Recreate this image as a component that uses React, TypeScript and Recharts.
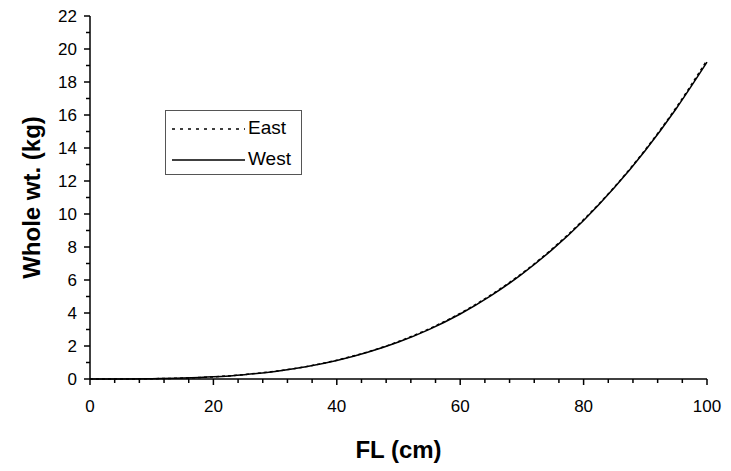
import { LineChart, Line, XAxis, YAxis, Legend, Label } from 'recharts'

// fork length (cm) and predicted whole weight (kg)
const lengths = [0, 5, 10, 15, 20, 25, 30, 35, 40, 45, 50, 55, 60, 65, 70, 75, 80, 85, 90, 95, 100]
const eastWt = [0, 0.002, 0.016, 0.056, 0.13, 0.27, 0.47, 0.75, 1.14, 1.64, 2.27, 3.05, 3.98, 5.1, 6.4, 7.92, 9.66, 11.64, 13.9, 16.45, 19.32]
const westWt = [0, 0.002, 0.015, 0.054, 0.13, 0.26, 0.46, 0.74, 1.12, 1.62, 2.24, 3.01, 3.94, 5.05, 6.36, 7.87, 9.61, 11.6, 13.85, 16.38, 19.2]

const xTicks = [0, 4, 8, 12, 16, 20, 24, 28, 32, 36, 40, 44, 48, 52, 56, 60, 64, 68, 72, 76, 80, 84, 88, 92, 96, 100]
const yTicks = [0, 1, 2, 3, 4, 5, 6, 7, 8, 9, 10, 11, 12, 13, 14, 15, 16, 17, 18, 19, 20, 21, 22]

const seriesNames = ['East', 'West']

const data = lengths.map((fl, i) => ({ fl, east: eastWt[i], west: westWt[i] }))

const FONT = '"Liberation Sans", Arial, sans-serif'

const YTick = ({ x, y, payload }: any) => {
    const major = payload.value % 2 === 0
    return (
        <g>
            <line x1={x} x2={x - (major ? 6 : 4)} y1={y} y2={y} stroke="#000" strokeWidth={1.5} />
            {major && (
                <text x={x - 13} y={y} dy="0.36em" textAnchor="end" fontSize={17} fontFamily={FONT} fill="#000">
                    {payload.value}
                </text>
            )}
        </g>
    )
}

const XTick = ({ x, y, payload }: any) => {
    const major = payload.value % 20 === 0
    return (
        <g>
            <line x1={x} x2={x} y1={y} y2={y + (major ? 6 : 4)} stroke="#000" strokeWidth={1.5} />
            {major && (
                <text x={x} y={y + 33} textAnchor="middle" fontSize={17} fontFamily={FONT} fill="#000">
                    {payload.value}
                </text>
            )}
        </g>
    )
}

const LegendBox = () => (
    <div
        style={{
            width: 137,
            height: 65,
            border: '1px solid #555',
            background: '#fff',
            boxSizing: 'border-box',
            position: 'relative',
        }}
    >
        <svg width={135} height={63} style={{ position: 'absolute', left: 0, top: 0 }}>
            <line x1={6} x2={79} y1={18} y2={18} stroke="#000" strokeWidth={1.5} strokeDasharray="3 5" />
            <line x1={6} x2={79} y1={49} y2={49} stroke="#000" strokeWidth={1.5} />
            <text x={82} y={23} fontSize={19} fontFamily={FONT}>{seriesNames[0]}</text>
            <text x={82} y={54} fontSize={19} fontFamily={FONT}>{seriesNames[1]}</text>
        </svg>
    </div>
)

export default function App() {
    return (
        <div style={{ position: 'absolute', left: 0, top: 0, width: 731, height: 471, background: '#fff', fontFamily: FONT }}>
            <LineChart width={731} height={471} data={data} margin={{ top: 16, right: 24, left: 0, bottom: 0 }}>
                <XAxis
                    dataKey="fl"
                    type="number"
                    domain={[0, 100]}
                    ticks={xTicks}
                    interval={0}
                    height={92}
                    tickSize={0}
                    tickMargin={0}
                    tickLine={false}
                    tick={<XTick />}
                    axisLine={{ stroke: '#000', strokeWidth: 1.5 }}
                >
                    <Label
                        value="FL (cm)"
                        position="insideBottom"
                        offset={13}
                        style={{ fontFamily: FONT, fontSize: 24, fontWeight: 'bold', fill: '#000' }}
                    />
                </XAxis>
                <YAxis
                    type="number"
                    domain={[0, 22]}
                    ticks={yTicks}
                    interval={0}
                    width={90}
                    tickSize={0}
                    tickMargin={0}
                    tickLine={false}
                    tick={<YTick />}
                    axisLine={{ stroke: '#000', strokeWidth: 1.5 }}
                >
                    <Label
                        value="Whole wt. (kg)"
                        angle={-90}
                        position="insideLeft"
                        offset={31}
                        style={{ textAnchor: 'middle', fontFamily: FONT, fontSize: 24, fontWeight: 'bold', fill: '#000' }}
                    />
                </YAxis>
                <Legend
                    layout="horizontal"
                    verticalAlign="middle"
                    align="center"
                    content={<LegendBox />}
                    wrapperStyle={{ position: 'absolute', left: 165, top: 110, width: 137, height: 65 }}
                />
                <Line
                    name={seriesNames[1]}
                    type="monotone"
                    dataKey="west"
                    stroke="#000"
                    strokeWidth={1.5}
                    dot={false}
                    isAnimationActive={false}
                />
                <Line
                    name={seriesNames[0]}
                    type="monotone"
                    dataKey="east"
                    stroke="#000"
                    strokeWidth={1.5}
                    strokeDasharray="3 3"
                    dot={false}
                    isAnimationActive={false}
                />
            </LineChart>
        </div>
    )
}
